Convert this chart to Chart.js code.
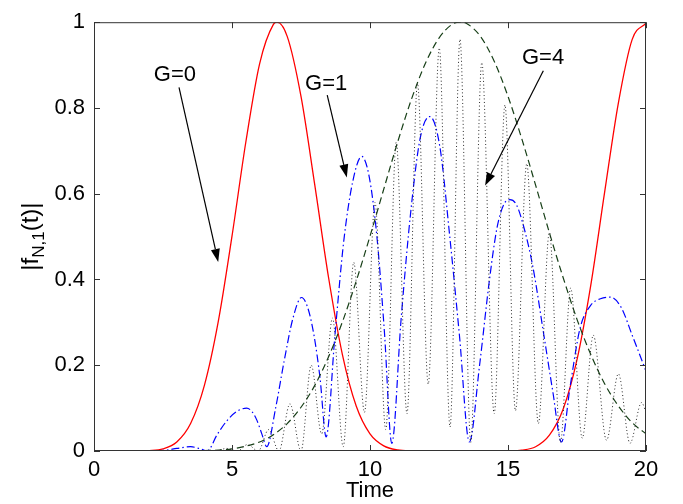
<!DOCTYPE html>
<html>
<head>
<meta charset="utf-8">
<script src="https://cdn.jsdelivr.net/npm/chart.js@4.4.0/dist/chart.umd.min.js"></script>
<style>
  html, body { margin: 0; padding: 0; background: #fff; }
  canvas { display: block; }
</style>
</head>
<body>
<canvas id="c" width="683" height="504"></canvas>
<script>
// Axis ticks
const xTicks = [0, 5, 10, 15, 20];
const yTicks = [0, 0.2, 0.4, 0.6, 0.8, 1];

// G = 0 : solid red
const timeG0 = [0, 1, 1.5, 2, 2.5, 3, 3.5, 4, 4.5, 5, 5.5, 6, 6.5, 6.63, 7, 7.5, 8, 8.5, 9, 9.5, 10, 10.5, 11, 11.5, 12, 13.27, 14, 14.5, 15, 15.5, 16, 16.5, 17, 17.5, 18, 18.5, 19, 19.5, 20];
const ampG0  = [0, 0, 0.0001, 0.001, 0.005, 0.021, 0.064, 0.153, 0.301, 0.501, 0.72, 0.903, 0.995, 1, 0.967, 0.827, 0.62, 0.404, 0.225, 0.105, 0.04, 0.012, 0.0024, 0.0003, 0, 0, 0, 0, 0.0003, 0.002, 0.01, 0.037, 0.098, 0.213, 0.387, 0.603, 0.812, 0.96, 0.998];

// G = 1 : blue dash-dot
const timeG1 = [0, 2, 2.6, 3.0, 3.5, 3.9, 4.1, 4.46, 4.82, 5.17, 5.53, 5.71, 5.9, 6.08, 6.26, 6.58, 6.89, 7.21, 7.52, 7.74, 7.97, 8.19, 8.41, 8.73, 9.05, 9.38, 9.7, 9.97, 10.25, 10.52, 10.79, 11.13, 11.48, 11.82, 12.17, 12.53, 12.89, 13.24, 13.6, 13.97, 14.33, 14.6, 14.85, 15.07, 15.3, 15.54, 15.9, 16.3, 16.62, 16.94, 17.25, 17.61, 18.0, 18.35, 18.7, 19.1, 19.5, 19.8, 20];
const ampG1  = [0, 0, 0.002, 0.006, 0.01, 0.004, 0, 0.038, 0.071, 0.092, 0.1, 0.093, 0.072, 0.04, 0.01, 0.1, 0.21, 0.31, 0.358, 0.335, 0.27, 0.17, 0.033, 0.27, 0.49, 0.63, 0.687, 0.64, 0.5, 0.28, 0.018, 0.31, 0.56, 0.73, 0.78, 0.71, 0.5, 0.27, 0.021, 0.2, 0.4, 0.52, 0.575, 0.586, 0.575, 0.53, 0.43, 0.27, 0.14, 0.021, 0.15, 0.286, 0.34, 0.355, 0.359, 0.335, 0.27, 0.22, 0.186];

// G = 4 : black dotted (fast oscillation)
const timeG4 = [0, 3.5, 4.4, 4.8, 5.2, 5.56, 5.95, 6.33, 6.7, 7.1, 7.5, 7.87, 8.25, 8.64, 9.03, 9.41, 9.8, 10.18, 10.57, 10.95, 11.34, 11.72, 12.11, 12.51, 12.9, 13.26, 13.65, 14.05, 14.5, 14.89, 15.27, 15.68, 16.1, 16.5, 16.9, 17.27, 17.69, 18.09, 18.57, 19.0, 19.42, 19.84, 20];
const ampG4  = [0, 0, 0, 0.006, 0, 0.015, 0, 0.05, 0, 0.11, 0, 0.2, 0.04, 0.31, 0.01, 0.44, 0.09, 0.58, 0.05, 0.72, 0.087, 0.857, 0.156, 0.94, 0.056, 0.96, 0.02, 0.906, 0.087, 0.807, 0.094, 0.67, 0.064, 0.51, 0.02, 0.38, 0.03, 0.27, 0.025, 0.18, 0.018, 0.113, 0.09];

// Envelope : dark green dashed
const timeEnv = [0, 2, 3, 4, 5, 6, 6.5, 7, 7.5, 8, 8.5, 9, 9.5, 10, 10.5, 11, 11.5, 12, 12.5, 13, 13.27, 13.5, 14, 14.5, 15, 15.5, 16, 16.5, 17, 17.5, 18, 18.5, 19, 19.5, 20];
const ampEnv  = [0, 0, 0.0001, 0.0009, 0.005, 0.021, 0.038, 0.064, 0.102, 0.153, 0.22, 0.301, 0.396, 0.501, 0.611, 0.72, 0.82, 0.903, 0.963, 0.996, 1, 0.997, 0.967, 0.909, 0.827, 0.728, 0.62, 0.509, 0.404, 0.307, 0.225, 0.157, 0.105, 0.066, 0.04];

// Labels with arrows, in data units
const notes = [
  { text: 'G=0', at: [2.93, 0.876], from: [3.08, 0.848], to: [4.50, 0.441] },
  { text: 'G=1', at: [8.41, 0.857], from: [8.45, 0.830], to: [9.16, 0.638] },
  { text: 'G=4', at: [16.27, 0.917], from: [16.28, 0.887], to: [14.17, 0.619] }
];

const FONT = '"Liberation Sans", Arial, Helvetica, sans-serif';

const zip = (xs, ys) => xs.map((x, i) => ({ x, y: ys[i] }));

const series = (label, xs, ys, color, dash, width) => ({
  label,
  data: zip(xs, ys),
  borderColor: color,
  borderWidth: width,
  borderDash: dash,
  pointRadius: 0,
  fill: false,
  cubicInterpolationMode: 'monotone'
});

// Frame, inward tick marks, y-axis title with subscript, and arrow notes
const decor = {
  id: 'decor',
  afterDatasetsDraw(chart) {
    const { ctx, chartArea: a, scales: { x, y } } = chart;
    ctx.save();
    ctx.setLineDash([]);
    ctx.strokeStyle = '#333';
    ctx.lineWidth = 1;
    ctx.strokeRect(a.left + 0.5, a.top + 0.5, a.right - a.left - 1, a.bottom - a.top - 1);
    const tl = 6;
    ctx.beginPath();
    xTicks.forEach(v => {
      const px = Math.round(x.getPixelForValue(v)) + 0.5;
      ctx.moveTo(px, a.bottom); ctx.lineTo(px, a.bottom - tl);
      ctx.moveTo(px, a.top); ctx.lineTo(px, a.top + tl);
    });
    yTicks.forEach(v => {
      const py = Math.round(y.getPixelForValue(v)) + 0.5;
      ctx.moveTo(a.left, py); ctx.lineTo(a.left + tl, py);
      ctx.moveTo(a.right, py); ctx.lineTo(a.right - tl, py);
    });
    ctx.stroke();

    // notes
    ctx.fillStyle = '#000';
    ctx.strokeStyle = '#000';
    ctx.lineWidth = 1.2;
    ctx.font = '22px ' + FONT;
    ctx.textAlign = 'center';
    ctx.textBaseline = 'middle';
    notes.forEach(n => {
      ctx.fillText(n.text, x.getPixelForValue(n.at[0]), y.getPixelForValue(n.at[1]));
      const x0 = x.getPixelForValue(n.from[0]), y0 = y.getPixelForValue(n.from[1]);
      const x1 = x.getPixelForValue(n.to[0]), y1 = y.getPixelForValue(n.to[1]);
      const ang = Math.atan2(y1 - y0, x1 - x0);
      const hl = 13, hw = 4.5;
      const bx = x1 - hl * Math.cos(ang), by = y1 - hl * Math.sin(ang);
      ctx.beginPath();
      ctx.moveTo(x0, y0); ctx.lineTo(bx, by);
      ctx.stroke();
      ctx.beginPath();
      ctx.moveTo(x1, y1);
      ctx.lineTo(bx + hw * Math.sin(ang), by - hw * Math.cos(ang));
      ctx.lineTo(bx - hw * Math.sin(ang), by + hw * Math.cos(ang));
      ctx.closePath();
      ctx.fill();
    });

    // y-axis title |f_{N,1}(t)|
    const mainF = '24px ' + FONT, subF = '17px ' + FONT;
    const parts = [['|f', mainF, 0], ['N,1', subF, 6], ['(t)|', mainF, 0]];
    let total = 0;
    parts.forEach(p => { ctx.font = p[1]; total += ctx.measureText(p[0]).width; });
    ctx.translate(30, (a.top + a.bottom) / 2);
    ctx.rotate(-Math.PI / 2);
    ctx.textAlign = 'left';
    ctx.textBaseline = 'alphabetic';
    let cx = -total / 2;
    parts.forEach(p => {
      ctx.font = p[1];
      ctx.fillText(p[0], cx, 8 + p[2]);
      cx += ctx.measureText(p[0]).width;
    });
    ctx.restore();
  }
};

new Chart(document.getElementById('c'), {
  type: 'line',
  data: {
    datasets: [
      series('G=4', timeG4, ampG4, '#2a2a2a', [1, 2.5], 1),
      series('envelope', timeEnv, ampEnv, '#173f17', [7, 4], 1.2),
      series('G=1', timeG1, ampG1, '#0000ff', [8, 3, 1.5, 3], 1.2),
      series('G=0', timeG0, ampG0, '#ff0000', [], 1.3)
    ]
  },
  options: {
    responsive: false,
    animation: false,
    devicePixelRatio: 1,
    layout: { padding: { top: 16, right: 37, left: 0, bottom: 0 } },
    plugins: { legend: { display: false }, tooltip: { enabled: false } },
    scales: {
      x: {
        type: 'linear', min: 0, max: 20,
        afterBuildTicks: s => { s.ticks = xTicks.map(v => ({ value: v })); },
        afterFit: s => { s.height = 53; },
        ticks: { font: { family: FONT, size: 22 }, color: '#000', padding: 6, maxRotation: 0, autoSkip: false },
        grid: { display: false, drawTicks: false },
        border: { display: false },
        title: { display: true, text: 'Time', color: '#000', font: { family: FONT, size: 22 }, padding: { top: 0, bottom: 0 } }
      },
      y: {
        type: 'linear', min: 0, max: 1,
        afterBuildTicks: s => { s.ticks = yTicks.map(v => ({ value: v })); },
        afterFit: s => { s.width = 94; },
        ticks: { font: { family: FONT, size: 22 }, color: '#000', padding: 9, callback: v => String(Math.round(v * 10) / 10) },
        grid: { display: false, drawTicks: false },
        border: { display: false }
      }
    }
  },
  plugins: [decor]
});
</script>
</body>
</html>
